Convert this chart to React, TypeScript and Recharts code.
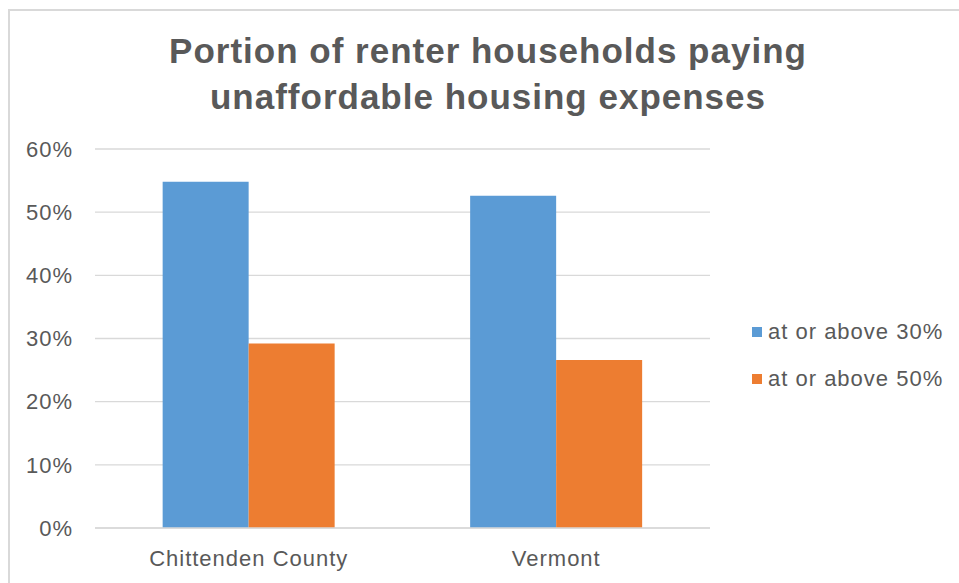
import React from 'react';
import { BarChart, Bar, XAxis, YAxis, CartesianGrid, Legend } from 'recharts';

const CATEGORIES = ['Chittenden County', 'Vermont'];
const ABOVE_30 = [54.8, 52.6];
const ABOVE_50 = [29.2, 26.6];
const Y_TICKS = [0, 10, 20, 30, 40, 50, 60];

const BLUE   = '#5B9BD5';
const ORANGE = '#ED7D31';
const TEXT   = '#595959';
const GRID   = '#D9D9D9';
const FONT   = '"Liberation Sans", Arial, sans-serif';

const data = CATEGORIES.map((name, i) => ({
  name,
  a30: ABOVE_30[i],
  a50: ABOVE_50[i],
}));

const tickStyle = { fontFamily: FONT, fontSize: 22, fill: TEXT, letterSpacing: 1 };

function LegendBox({ payload }: any) {
  return (
    <div style={{ fontFamily: FONT, fontSize: 22, letterSpacing: 1, color: TEXT, textAlign: 'left' }}>
      {(payload || []).map((p: any) => (
        <div key={p.value} style={{ display: 'flex', alignItems: 'center', height: 47 }}>
          <span style={{ width: 10, height: 10, background: p.color, marginRight: 6, display: 'inline-block' }} />
          <span>{p.value}</span>
        </div>
      ))}
    </div>
  );
}

export default function App() {
  return (
    <div style={{ position: 'absolute', left: 0, top: 0, width: 959, height: 583, overflow: 'hidden', background: '#fff' }}>
      <div style={{ position: 'absolute', left: 8, top: 9, width: 1100, height: 1000, border: `2px solid ${GRID}` }} />
      <div style={{
        position: 'absolute', left: 0, width: 976, top: 28, textAlign: 'center',
        fontFamily: FONT, fontWeight: 'bold', fontSize: 35, letterSpacing: 1, lineHeight: '46px', color: TEXT,
      }}>
        Portion of renter households paying<br />unaffordable housing expenses
      </div>
      <div style={{ position: 'absolute', left: 0, top: 0 }}>
        <BarChart
          width={959}
          height={583}
          data={data}
          margin={{ top: 149, right: 249, left: 15, bottom: 0 }}
          barCategoryGap="22%"
          barGap={0}
        >
          <CartesianGrid vertical={false} stroke={GRID} strokeWidth={1.3} />
          <XAxis
            dataKey="name"
            height={55}
            tickSize={0}
            tickMargin={22}
            axisLine={{ stroke: GRID, strokeWidth: 1.3 }}
            tick={tickStyle}
          />
          <YAxis
            width={80}
            domain={[0, 60]}
            ticks={Y_TICKS}
            tickFormatter={(v) => `${v}%`}
            axisLine={false}
            tickSize={0}
            tickMargin={22}
            tick={tickStyle}
          />
          <Legend
            layout="vertical"
            verticalAlign="middle"
            align="center"
            content={<LegendBox />}
            wrapperStyle={{ left: 752, top: 308, width: 205 }}
          />
          <Bar dataKey="a30" name="at or above 30%" fill={BLUE} isAnimationActive={false} />
          <Bar dataKey="a50" name="at or above 50%" fill={ORANGE} isAnimationActive={false} />
        </BarChart>
      </div>
    </div>
  );
}
